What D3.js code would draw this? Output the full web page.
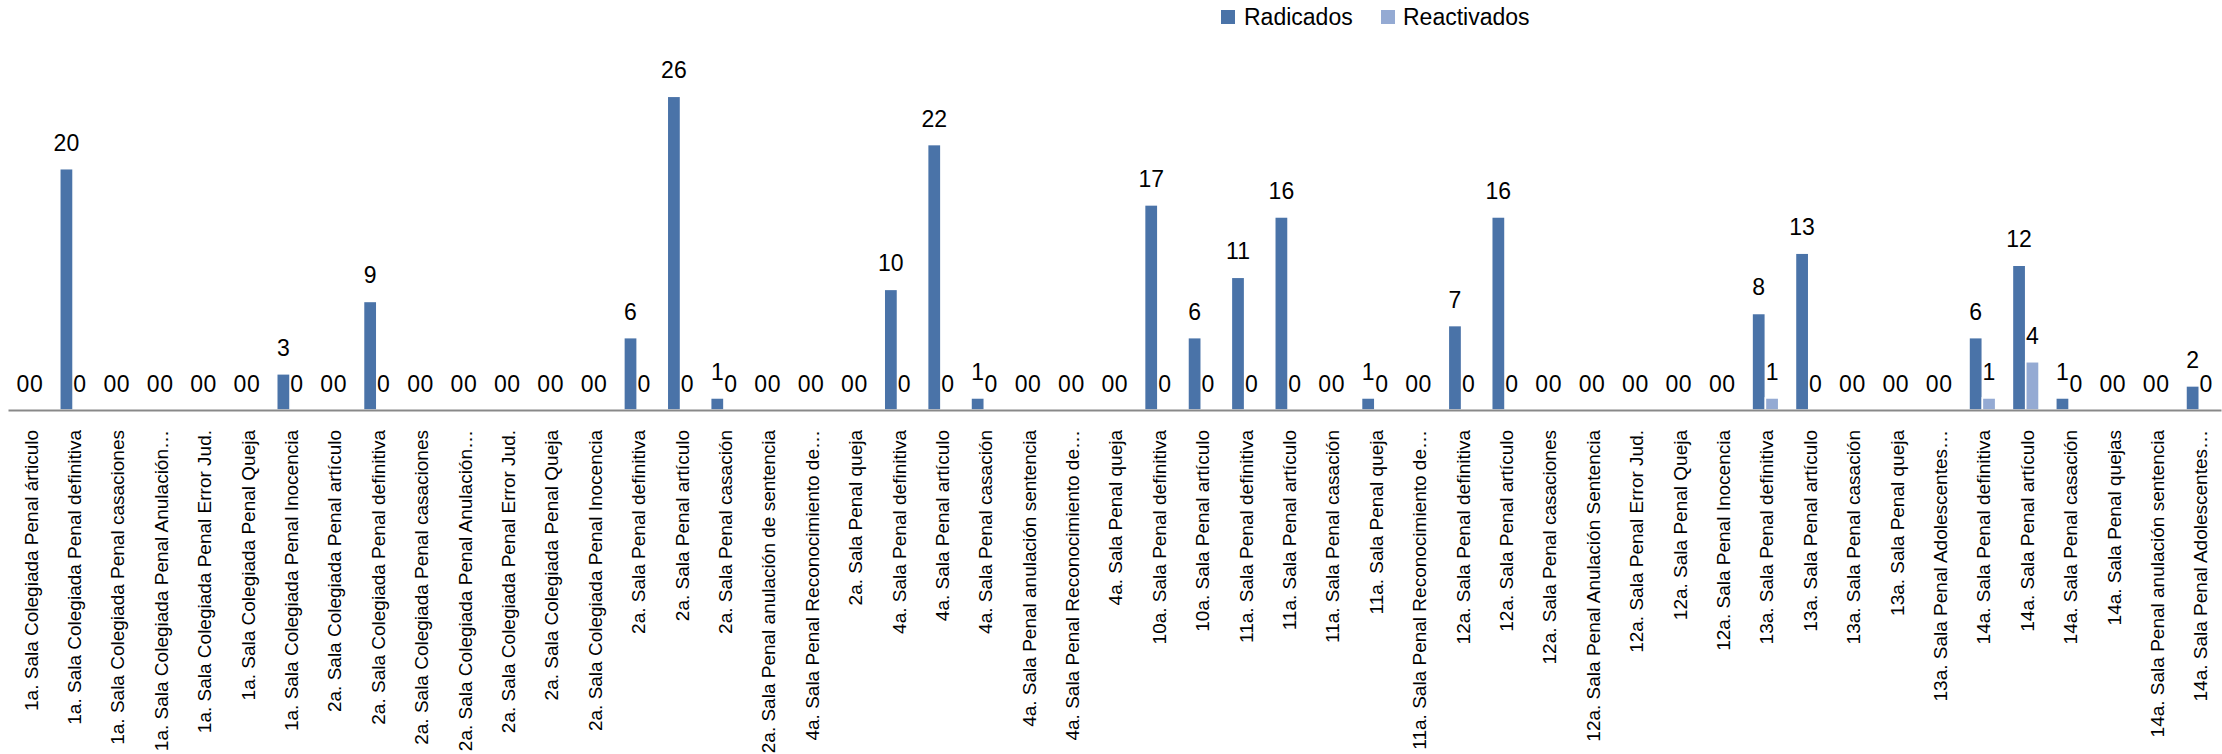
<!DOCTYPE html>
<html>
<head>
<meta charset="utf-8">
<script src="https://cdn.jsdelivr.net/npm/d3@7/dist/d3.min.js"></script>
<style>
  html, body { margin: 0; padding: 0; background: #fff; }
  svg { display: block; font-family: "Liberation Sans", Arial, sans-serif; }
</style>
</head>
<body>
<svg id="chart" width="2222" height="754"></svg>
<script>
const categories = [
  "1a. Sala Colegiada Penal árticulo",
  "1a. Sala Colegiada Penal definitiva",
  "1a. Sala Colegiada Penal casaciones",
  "1a. Sala Colegiada Penal Anulación…",
  "1a. Sala Colegiada Penal Error Jud.",
  "1a. Sala Colegiada Penal Queja",
  "1a. Sala Colegiada Penal Inocencia",
  "2a. Sala Colegiada Penal artículo",
  "2a. Sala Colegiada Penal definitiva",
  "2a. Sala Colegiada Penal casaciones",
  "2a. Sala Colegiada Penal Anulación…",
  "2a. Sala Colegiada Penal Error Jud.",
  "2a. Sala Colegiada Penal Queja",
  "2a. Sala Colegiada Penal Inocencia",
  "2a. Sala Penal definitiva",
  "2a. Sala Penal artículo",
  "2a. Sala Penal casación",
  "2a. Sala Penal anulación de sentencia",
  "4a. Sala Penal Reconocimiento de…",
  "2a. Sala Penal queja",
  "4a. Sala Penal definitiva",
  "4a. Sala Penal artículo",
  "4a. Sala Penal casación",
  "4a. Sala Penal anulación sentencia",
  "4a. Sala Penal Reconocimiento de… ",
  "4a. Sala Penal queja",
  "10a. Sala Penal definitiva",
  "10a. Sala Penal artículo",
  "11a. Sala Penal definitiva",
  "11a. Sala Penal artículo",
  "11a. Sala Penal casación",
  "11a. Sala Penal queja",
  "11a. Sala Penal Reconocimiento de…",
  "12a. Sala Penal definitiva",
  "12a. Sala Penal artículo",
  "12a. Sala Penal casaciones",
  "12a. Sala Penal Anulación Sentencia",
  "12a. Sala Penal Error Jud.",
  "12a. Sala Penal Queja",
  "12a. Sala Penal Inocencia",
  "13a. Sala Penal definitiva",
  "13a. Sala Penal artículo",
  "13a. Sala Penal casación",
  "13a. Sala Penal queja",
  "13a. Sala Penal Adolescentes…",
  "14a. Sala Penal definitiva",
  "14a. Sala Penal artículo",
  "14a. Sala Penal casación",
  "14a. Sala Penal quejas",
  "14a. Sala Penal anulación sentencia",
  "14a. Sala Penal Adolescentes…"
];

const radicados = [
  0, 20, 0, 0, 0, 0, 3, 0, 9, 0, 0, 0, 0, 0,
  6, 26, 1, 0, 0, 0,
  10, 22, 1, 0, 0, 0,
  17, 6,
  11, 16, 0, 1, 0,
  7, 16, 0, 0, 0, 0, 0,
  8, 13, 0, 0, 0,
  6, 12, 1, 0, 0, 2
];

const reactivados = [
  0, 0, 0, 0, 0, 0, 0, 0, 0, 0, 0, 0, 0, 0,
  0, 0, 0, 0, 0, 0,
  0, 0, 0, 0, 0, 0,
  0, 0,
  0, 0, 0, 0, 0,
  0, 0, 0, 0, 0, 0, 0,
  1, 0, 0, 0, 0,
  1, 4, 0, 0, 0, 0
];

const seriesNames = ["Radicados", "Reactivados"];
const seriesColors = ["#4A73A8", "#94AAD3"];
const yMax = 30;

const svg = d3.select("#chart");
const axisY = 410;

const x0 = d3.scaleBand().domain(categories).range([8, 2221]).paddingInner(0).paddingOuter(0);
const x1 = d3.scaleBand().domain(seriesNames).range([0, x0.bandwidth()]).paddingInner(0).paddingOuter(0.625);
const y = d3.scaleLinear().domain([0, yMax]).range([axisY, 48]);
const color = d3.scaleOrdinal().domain(seriesNames).range(seriesColors);

const rows = categories.map((c, i) => ({
  cat: c,
  values: [
    { key: "Radicados", value: radicados[i] },
    { key: "Reactivados", value: reactivados[i] }
  ]
}));

const groups = svg.append("g").selectAll("g.cat")
  .data(rows).join("g")
  .attr("class", "cat")
  .attr("transform", d => `translate(${x0(d.cat)},0)`);

groups.selectAll("rect")
  .data(d => d.values).join("rect")
  .attr("x", d => x1(d.key))
  .attr("width", x1.bandwidth())
  .attr("y", d => y(d.value))
  .attr("height", d => y(0) - y(d.value))
  .attr("fill", d => color(d.key))
  .attr("stroke", "#ffffff")
  .attr("stroke-width", 1.6);

groups.selectAll("text.lbl")
  .data(d => d.values).join("text")
  .attr("class", "lbl")
  .attr("x", d => x1(d.key) + x1.bandwidth() / 2)
  .attr("y", d => y(d.value) - 18)
  .attr("text-anchor", "middle")
  .attr("font-size", 23)
  .attr("fill", "#000")
  .text(d => d.value);

// x axis
const xAxis = d3.axisBottom(x0).tickSize(0).tickSizeOuter(0).tickFormat(d => d.trim());
const ax = svg.append("g").attr("transform", `translate(0,${axisY})`).call(xAxis);
ax.select(".domain").attr("stroke", "#898989").attr("stroke-width", 2);
ax.selectAll(".tick text")
  .attr("transform", "rotate(-90)")
  .attr("x", -20)
  .attr("y", 0)
  .attr("dy", "0.42em")
  .attr("text-anchor", "end")
  .attr("font-size", 19)
  .attr("font-family", "'Liberation Sans', Arial, sans-serif")
  .attr("fill", "#000");

// legend
const legend = svg.append("g").attr("class", "legend");
const legendItems = [
  { key: "Radicados", sx: 1221, tx: 1244 },
  { key: "Reactivados", sx: 1381, tx: 1403 }
];
legendItems.forEach(it => {
  legend.append("rect")
    .attr("x", it.sx).attr("y", 10)
    .attr("width", 14).attr("height", 14)
    .attr("fill", color(it.key));
  legend.append("text")
    .attr("x", it.tx).attr("y", 25)
    .attr("font-size", 23)
    .attr("fill", "#000")
    .text(it.key);
});
</script>
</body>
</html>
